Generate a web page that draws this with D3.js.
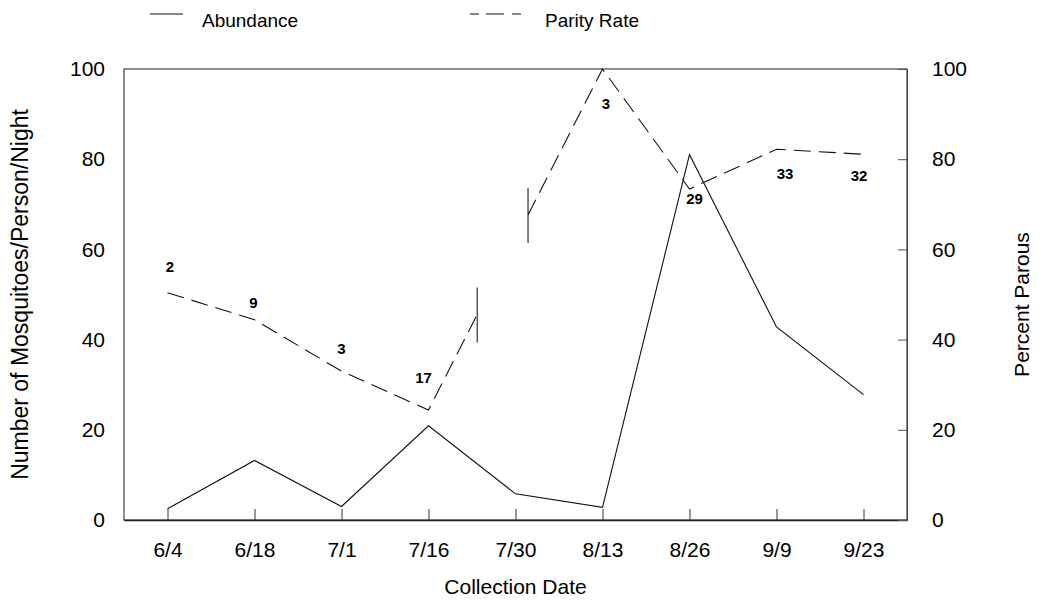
<!DOCTYPE html>
<html>
<head>
<meta charset="utf-8">
<script src="https://cdn.jsdelivr.net/npm/d3@7"></script>
<style>
  html, body { margin: 0; padding: 0; background: #fff; }
  svg { display: block; font-family: Arial, "Liberation Sans", sans-serif; }
</style>
</head>
<body>
<svg id="chart" width="1043" height="603"></svg>
<script>
// Collection dates (categories)
const dates = ["6/4", "6/18", "7/1", "7/16", "7/30", "8/13", "8/26", "9/9", "9/23"];
// Mosquitoes per person per night
const abundance = [2.5, 13.2, 3, 20.9, 5.8, 2.8, 81, 42.8, 27.8];
// Percent parous (no value for 7/30)
const parity = [50.4, 44.4, 33, 24.4, null, 100, 73.4, 82.2, 81.1];
// Number of females dissected on each date
const sampleSize = [2, 9, 3, 17, null, 3, 29, 33, 32];
// Axis ticks
const yTicks = [0, 20, 40, 60, 80, 100];

// Layout
const W = 1043, H = 603;
const plot = { left: 124, right: 907, top: 69, bottom: 520 };
// Offsets of each sample-size label from its parity point
const labelDx = [2.5, -1, 0, -5, 0, 3.5, 5, 8.5, -4.5];
const labelDy = [-26, -17, -23, -32, 0, 34, 10, 24, 21];
// Where the interpolated 7/16 -> 8/13 parity line is broken (fraction of the segment)
const breakFrom = 0.28, breakTo = 0.572;

const svg = d3.select("#chart");

const x = d3.scalePoint().domain(dates).range([plot.left, plot.right]).padding(0.5);
const y = d3.scaleLinear().domain([0, 100]).range([plot.bottom, plot.top]);

// Frame
svg.append("rect")
  .attr("x", plot.left).attr("y", plot.top)
  .attr("width", plot.right - plot.left).attr("height", plot.bottom - plot.top)
  .attr("fill", "none").attr("stroke", "#444").attr("stroke-width", 1.2);

// Bottom axis: ticks pointing up into the plot
const xAxis = svg.append("g")
  .attr("transform", `translate(0,${plot.bottom})`)
  .call(d3.axisBottom(x).tickSizeInner(-11).tickSizeOuter(0).tickPadding(22));
xAxis.select(".domain").attr("stroke", "#222").attr("stroke-width", 1.5);
xAxis.selectAll(".tick line").attr("stroke", "#333");
xAxis.selectAll("text").attr("font-size", 21).attr("fill", "#000")
  .attr("font-family", "Arial, 'Liberation Sans', sans-serif");

// Left axis: labels only
const yLeft = svg.append("g")
  .attr("transform", `translate(${plot.left},0)`)
  .call(d3.axisLeft(y).tickValues(yTicks).tickSize(0).tickPadding(19));
yLeft.select(".domain").remove();
yLeft.selectAll("text").attr("font-size", 21).attr("fill", "#000")
  .attr("font-family", "Arial, 'Liberation Sans', sans-serif");

// Right axis: ticks pointing into the plot
const yRight = svg.append("g")
  .attr("transform", `translate(${plot.right},0)`)
  .call(d3.axisRight(y).tickValues(yTicks).tickSizeInner(-9).tickSizeOuter(0).tickPadding(25));
yRight.select(".domain").attr("stroke", "#444");
yRight.selectAll(".tick line").attr("stroke", "#555");
yRight.selectAll("text").attr("font-size", 21).attr("fill", "#000")
  .attr("font-family", "Arial, 'Liberation Sans', sans-serif");

// Axis titles
svg.append("text")
  .attr("x", (plot.left + plot.right) / 2).attr("y", 594)
  .attr("text-anchor", "middle").attr("font-size", 21)
  .text("Collection Date");

svg.append("text")
  .attr("transform", `translate(28,${(plot.top + plot.bottom) / 2}) rotate(-90)`)
  .attr("text-anchor", "middle").attr("font-size", 23)
  .text("Number of Mosquitoes/Person/Night");

svg.append("text")
  .attr("transform", `translate(1029,${(plot.top + plot.bottom) / 2 + 10}) rotate(-90)`)
  .attr("text-anchor", "middle").attr("font-size", 21)
  .text("Percent Parous");

// Abundance line
const line = d3.line()
  .defined(d => d.v !== null)
  .x(d => x(d.date)).y(d => y(d.v));

svg.append("path")
  .datum(dates.map((d, i) => ({ date: d, v: abundance[i] })))
  .attr("d", line)
  .attr("fill", "none").attr("stroke", "#111").attr("stroke-width", 1.1);

// Parity line: known points, with the missing 7/30 bridged by a broken segment
const parityPts = dates.map((d, i) => ({ date: d, v: parity[i] })).filter(p => p.v !== null);
const dash = "17,8";
const segs = [];
let run = [parityPts[0]];
for (let i = 1; i < parityPts.length; i++) {
  const a = parityPts[i - 1], b = parityPts[i];
  const gapped = dates.indexOf(b.date) - dates.indexOf(a.date) > 1;
  if (gapped) {
    const ax = x(a.date), ay = y(a.v), bx = x(b.date), by = y(b.v);
    const p1 = [ax + (bx - ax) * breakFrom, ay + (by - ay) * breakFrom];
    const p2 = [ax + (bx - ax) * breakTo, ay + (by - ay) * breakTo];
    run.push({ px: p1 });
    segs.push(run);
    run = [{ px: p2 }, b];
    // break markers
    [p1, p2].forEach(p => {
      svg.append("line")
        .attr("x1", p[0]).attr("x2", p[0])
        .attr("y1", p[1] - 27).attr("y2", p[1] + 28)
        .attr("stroke", "#222").attr("stroke-width", 1.1);
    });
  } else {
    run.push(b);
  }
}
segs.push(run);

const pxLine = d3.line()
  .x(d => d.px ? d.px[0] : x(d.date))
  .y(d => d.px ? d.px[1] : y(d.v));

segs.forEach(s => {
  svg.append("path")
    .attr("d", pxLine(s))
    .attr("fill", "none").attr("stroke", "#111").attr("stroke-width", 1.1)
    .attr("stroke-dasharray", dash);
});

// Sample-size labels
svg.append("g").selectAll("text")
  .data(dates.map((d, i) => ({ date: d, v: parity[i], n: sampleSize[i], dx: labelDx[i], dy: labelDy[i] }))
    .filter(d => d.n !== null))
  .join("text")
  .attr("x", d => x(d.date) + d.dx)
  .attr("y", d => y(d.v) + d.dy + 5.5)
  .attr("text-anchor", "middle")
  .attr("font-size", 15).attr("font-weight", 900)
  .text(d => d.n);

// Legend
const legend = svg.append("g");
legend.append("line").attr("x1", 150).attr("x2", 183).attr("y1", 14).attr("y2", 14)
  .attr("stroke", "#111").attr("stroke-width", 1.1);
legend.append("text").attr("x", 202).attr("y", 27).attr("font-size", 19).text("Abundance");
legend.append("line").attr("x1", 470).attr("x2", 526).attr("y1", 14).attr("y2", 14)
  .attr("stroke", "#111").attr("stroke-width", 1.1).attr("stroke-dasharray", "9,7,18,8");
legend.append("text").attr("x", 545).attr("y", 27).attr("font-size", 19).text("Parity Rate");
</script>
</body>
</html>
